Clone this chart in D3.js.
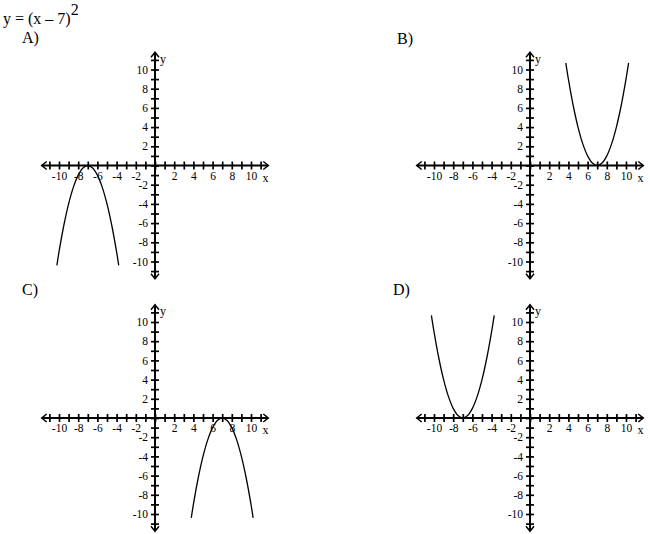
<!DOCTYPE html>
<meta charset="utf-8">

<!-- Load d3.js -->
<script src="https://d3js.org/d3.v7.min.js"></script>

<style>
  body { margin: 0; background: #fff; }
  text { font-family: "Liberation Serif", "Times New Roman", serif; fill: #000; }
</style>

<div id="my_dataviz"></div>

<script>

// answer choices and their graphs
var panels = ["A", "B", "C", "D"];

var curveAx = [-10.22, -10, -9.5, -9, -8.5, -8, -7.5, -7, -6.5, -6, -5.5, -5, -4.5, -4, -3.78];
var curveAy = [-10.4, -9, -6.25, -4, -2.25, -1, -0.25, 0, -0.25, -1, -2.25, -4, -6.25, -9, -10.4];

var curveBx = [3.73, 4, 4.5, 5, 5.5, 6, 6.5, 7, 7.5, 8, 8.5, 9, 9.5, 10, 10.27];
var curveBy = [10.7, 9, 6.25, 4, 2.25, 1, 0.25, 0, 0.25, 1, 2.25, 4, 6.25, 9, 10.7];

var curveCx = [3.78, 4, 4.5, 5, 5.5, 6, 6.5, 7, 7.5, 8, 8.5, 9, 9.5, 10, 10.22];
var curveCy = [-10.4, -9, -6.25, -4, -2.25, -1, -0.25, 0, -0.25, -1, -2.25, -4, -6.25, -9, -10.4];

var curveDx = [-10.27, -10, -9.5, -9, -8.5, -8, -7.5, -7, -6.5, -6, -5.5, -5, -4.5, -4, -3.73];
var curveDy = [10.7, 9, 6.25, 4, 2.25, 1, 0.25, 0, 0.25, 1, 2.25, 4, 6.25, 9, 10.7];

// ticks every unit, labels every two
var minorTicks = [-11, -10, -9, -8, -7, -6, -5, -4, -3, -2, -1, 0, 1, 2, 3, 4, 5, 6, 7, 8, 9, 10, 11];
var tickLabels = [-10, -8, -6, -4, -2, 2, 4, 6, 8, 10];

var curves = {
  A: d3.zip(curveAx, curveAy),
  B: d3.zip(curveBx, curveBy),
  C: d3.zip(curveCx, curveCy),
  D: d3.zip(curveDx, curveDy)
};

// layout
var width = 650, height = 534;
var unit = 9.6;
var origins = { A: [155, 165.5], B: [530, 165.5], C: [155, 418], D: [530, 418] };
var letterPos = { A: [22, 43], B: [397, 44], C: [22, 295], D: [393, 295] };

var svg = d3.select("#my_dataviz")
  .append("svg")
    .attr("width", width)
    .attr("height", height);

// question
var title = svg.append("text")
    .attr("x", 3)
    .attr("y", 24)
    .style("font-size", "16px")
    .text("y = (x \u2013 7)");
title.append("tspan")
    .attr("dy", -9)
    .text("2");

panels.forEach(function(p) {
  var ox = origins[p][0], oy = origins[p][1];

  var x = d3.scaleLinear().domain([-10, 10]).range([ox - 10 * unit, ox + 10 * unit]);
  var y = d3.scaleLinear().domain([-10, 10]).range([oy + 10 * unit, oy - 10 * unit]);

  svg.append("text")
      .attr("x", letterPos[p][0])
      .attr("y", letterPos[p][1])
      .style("font-size", "16px")
      .text(p + ")");

  var g = svg.append("g");

  var fmt = function(d) { return tickLabels.indexOf(d) >= 0 ? String(d) : ""; };

  // x axis: ticks above and below the line
  g.append("g")
      .attr("transform", "translate(0," + oy + ")")
      .call(d3.axisBottom(x).tickValues(minorTicks).tickSize(-4).tickSizeOuter(0).tickFormat(""));
  g.append("g")
      .attr("transform", "translate(0," + oy + ")")
      .call(d3.axisBottom(x).tickValues(minorTicks).tickSize(4).tickSizeOuter(0).tickPadding(2).tickFormat(fmt));

  // y axis
  g.append("g")
      .attr("transform", "translate(" + ox + ",0)")
      .call(d3.axisLeft(y).tickValues(minorTicks).tickSize(-4).tickSizeOuter(0).tickFormat(""));
  g.append("g")
      .attr("transform", "translate(" + ox + ",0)")
      .call(d3.axisLeft(y).tickValues(minorTicks).tickSize(4).tickSizeOuter(0).tickPadding(3).tickFormat(fmt));

  g.selectAll(".domain").remove();
  g.selectAll("g").attr("font-family", null).attr("font-size", null);
  g.selectAll(".tick line").attr("stroke", "#000").attr("stroke-width", 1.7);
  g.selectAll(".tick text").style("font-size", "11.5px");

  // axis lines with open arrow heads
  var ext = 11.8;
  var xl = x(-ext), xr = x(ext), yt = y(ext), yb = y(-ext);
  g.append("path")
      .attr("d", "M" + xl + "," + oy + "H" + xr + "M" + ox + "," + yt + "V" + yb)
      .attr("stroke", "#000")
      .attr("stroke-width", 2)
      .attr("fill", "none");
  g.append("path")
      .attr("d",
        "M" + (xl + 5) + "," + (oy - 4) + "L" + xl + "," + oy + "L" + (xl + 5) + "," + (oy + 4) +
        "M" + (xr - 5) + "," + (oy - 4) + "L" + xr + "," + oy + "L" + (xr - 5) + "," + (oy + 4) +
        "M" + (ox - 4) + "," + (yt + 5) + "L" + ox + "," + yt + "L" + (ox + 4) + "," + (yt + 5) +
        "M" + (ox - 4) + "," + (yb - 5) + "L" + ox + "," + yb + "L" + (ox + 4) + "," + (yb - 5))
      .attr("stroke", "#000")
      .attr("stroke-width", 1.5)
      .attr("fill", "none");

  // axis names
  g.append("text")
      .attr("x", x(11.2))
      .attr("y", oy + 16)
      .style("font-size", "12px")
      .text("x");
  g.append("text")
      .attr("x", ox + 5)
      .attr("y", y(10.7))
      .style("font-size", "12px")
      .text("y");

  // the parabola
  var line = d3.line()
      .x(function(d) { return x(d[0]); })
      .y(function(d) { return y(d[1]); })
      .curve(d3.curveCatmullRom);

  g.append("path")
      .datum(curves[p])
      .attr("d", line)
      .attr("stroke", "#000")
      .attr("stroke-width", 1.3)
      .attr("fill", "none");
});

</script>
